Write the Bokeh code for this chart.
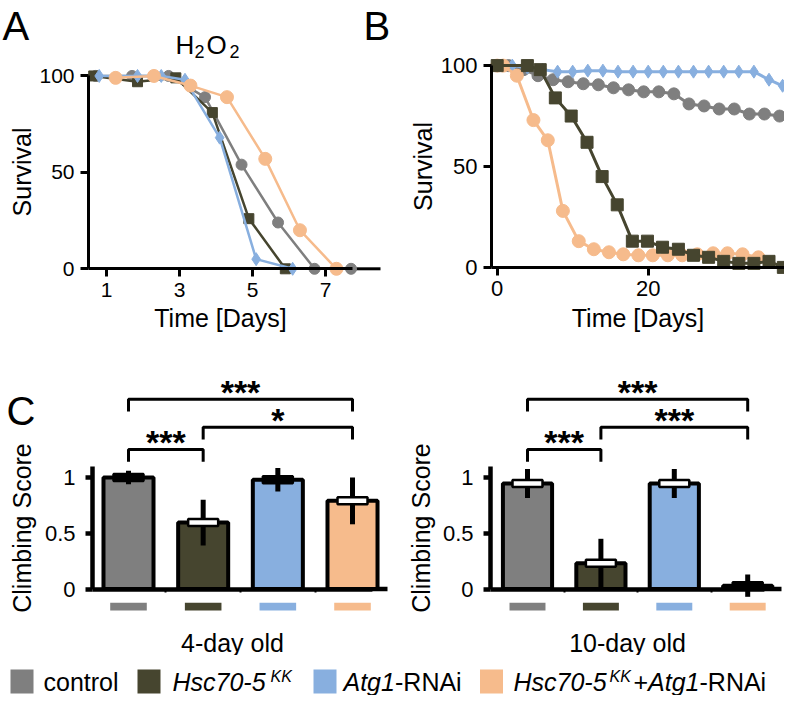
from bokeh.plotting import figure
from bokeh.models import Range1d, FixedTicker, Label, NumeralTickFormatter, CustomJSTickFormatter
from bokeh.layouts import column, row
from bokeh.embed import file_html
from bokeh.resources import INLINE

FONT = "Liberation Sans"

# ---------------- data ----------------
GROUPS = ["control", "Hsc70-5 KK", "Atg1-RNAi", "Hsc70-5 KK+Atg1-RNAi"]
COLORS = ["#7f7f7f", "#46452f", "#88afdf", "#f6bb8c"]

# Panel A: H2O2 survival (days, % alive)
a_ctrl_days = [0.7, 1.7, 2.7, 3.7, 4.7, 5.7, 6.7, 7.7]
a_ctrl_surv = [100, 100, 100, 89, 54, 24, 0, 0]
a_kk_days = [0.65, 1.85, 2.9, 3.9, 4.9, 5.9]
a_kk_surv = [100, 97, 99, 81, 26, 0]
a_atg_days = [0.8, 1.85, 2.5, 3.15, 4.1, 5.1, 6.1]
a_atg_surv = [100, 100, 100, 98, 68, 5, 0]
a_dbl_days = [1.25, 2.3, 3.3, 4.3, 5.35, 6.3, 7.3]
a_dbl_surv = [99, 100, 95, 89, 57, 20, 0]
a_ticks = [1, 3, 5, 7]

# Panel B: lifespan survival
b_ctrl_days = [0, 1.5, 3.5, 5.4, 7.4, 9.4, 11.4, 13.4, 15.4, 17.4, 19.4, 21.4, 23.4,
               25.4, 27.4, 29.4, 31.4, 33.4, 35.4, 37.4]
b_ctrl_surv = [100, 100, 98, 95, 93, 92, 91, 90.5, 89, 88, 87, 87, 86,
               81, 80, 78.5, 78.5, 76, 76, 75]
b_kk_days = [0, 4, 5.7, 7.7, 9.8, 11.9, 13.9, 15.9, 17.9, 19.9, 21.9, 24, 26, 28,
             30, 32, 34, 36, 37.9]
b_kk_surv = [100, 100, 98, 84, 75, 62, 45, 31, 13, 13, 10, 9, 6, 5, 3, 2, 2, 3, 0]
b_atg_days = [0, 2, 4, 6, 8, 10, 12, 14, 16, 18, 20, 22, 24, 26, 28, 30, 32, 34, 36, 37.8]
b_atg_surv = [100, 100, 99, 98, 97, 97, 97.5, 97.5, 97, 97, 97, 97, 97, 97, 97,
              97, 97, 97, 93, 90]
b_dbl_days = [0, 0.8, 2.6, 4.8, 6.7, 8.7, 10.8, 12.8, 14.8, 16.7, 18.7, 20.6, 22.6,
              24.5, 26.5, 28.6, 30.5, 32.5, 34.6]
b_dbl_surv = [100, 100, 95, 73, 63, 28, 13, 9, 7.5, 6.5, 6, 6, 6, 6, 6.5, 7, 7, 6.5, 5]
b_ticks = [0, 20]

# Panel C: climbing scores
c4_mean = [1.0, 0.595, 0.98, 0.79]
c4_err = [0.06, 0.205, 0.105, 0.21]
c10_mean = [0.945, 0.23, 0.945, 0.03]
c10_err = [0.13, 0.22, 0.13, 0.10]
sig_pairs = [(1, 4), (2, 4), (1, 2)]
sig_levels = [1.70, 1.45, 1.25]
c4_sig = ["***", "*", "***"]
c10_sig = ["***", "***", "***"]
bar_pos = [1, 2, 3, 4]
c_yticks = [0, 0.5, 1]


# ---------------- helpers ----------------
class Canvas:
    """Figure whose plotting frame is the whole canvas; page px <-> data."""

    def __init__(self, ox, oy, w, h, xa, rxa, sx, ya, rya, sy):
        self.ox, self.oy, self.w, self.h = ox, oy, w, h
        self.xa, self.rxa, self.sx = xa, rxa, sx
        self.ya, self.rya, self.sy = ya, rya, sy

    def dx(self, rx):
        return self.xa + (rx - self.rxa) / self.sx

    def dy(self, ry):
        return self.ya + (self.rya - ry) / self.sy

    def fig(self, axes=True):
        kw = {} if axes else dict(x_axis_type=None, y_axis_type=None)
        p = figure(width=self.w, height=self.h,
                   x_range=Range1d(self.dx(self.ox), self.dx(self.ox + self.w)),
                   y_range=Range1d(self.dy(self.oy + self.h), self.dy(self.oy)),
                   output_backend="svg", toolbar_location=None,
                   min_border_left=0, min_border_right=0,
                   min_border_top=0, min_border_bottom=0, **kw)
        p.outline_line_color = None
        p.background_fill_color = "white"
        p.border_fill_color = "white"
        if axes:
            p.grid.visible = False
        return p


def label(p, cv, rx, ry, s, size, style="normal", align="left"):
    # ry = visual middle of the text line (page px)
    p.add_layout(Label(x=cv.dx(rx), y=cv.dy(ry), text=s, text_font=FONT,
                       text_font_size=f"{size}px", text_font_style=style,
                       text_align=align, text_baseline="middle", text_color="black"))


def style_axes(p, cv, xlabel, ylabel, tick_size, lw, ytick_out, ystand, ylab_stand,
               xtick_out, xstand, xlab_stand, axis_rx, end_rx, label_rx, ybounds):
    for ax in (p.xaxis[0], p.yaxis[0]):
        ax.axis_line_width = lw
        ax.axis_line_color = "black"
        ax.major_tick_line_width = lw
        ax.major_tick_line_color = "black"
        ax.major_tick_in = 0
        ax.minor_tick_line_color = None
        ax.major_label_text_font = FONT
        ax.major_label_text_font_size = f"{tick_size}px"
        ax.major_label_text_color = "black"
        ax.axis_label_text_font = FONT
        ax.axis_label_text_font_size = "25px"
        ax.axis_label_text_font_style = "normal"
        ax.axis_label_text_color = "black"
    p.xaxis.axis_label = xlabel
    p.yaxis.axis_label = ylabel
    p.yaxis.major_tick_out = ytick_out
    p.yaxis.major_label_standoff = ystand
    p.yaxis.axis_label_standoff = ylab_stand
    p.xaxis.major_tick_out = xtick_out
    p.xaxis.major_label_standoff = xstand
    p.xaxis.axis_label_standoff = xlab_stand
    x0 = cv.dx(axis_rx)
    p.xaxis.fixed_location = 0
    p.yaxis.fixed_location = x0
    # x bounds chosen so that the axis title sits where the reference puts it
    xb_end = cv.dx(2 * label_rx - axis_rx)
    p.xaxis.bounds = (x0, xb_end)
    p.yaxis.bounds = ybounds
    x_end = cv.dx(end_rx)
    if x_end > xb_end:  # rest of the x axis line
        p.segment(x0=[xb_end], y0=[0], x1=[x_end], y1=[0], line_color="black",
                  line_width=lw)


# ---------------- Panel A ----------------
cA = Canvas(0, 0, 400, 355, 1, 106, 36.5, 0, 268.3, 1.9286)
pA = cA.fig()
style_axes(pA, cA, "Time [Days]", "Survival", 21, 3, 8, 6, 0, 8, 6, 4,
           88, 380, 220, (0, 100))
pA.xaxis.ticker = FixedTicker(ticks=a_ticks)
pA.yaxis.ticker = FixedTicker(ticks=[0, 50, 100])
seriesA = [
    (a_ctrl_days, a_ctrl_surv, COLORS[0], "circle", 11),
    (a_kk_days, a_kk_surv, COLORS[1], "square", 10),
    (a_atg_days, a_atg_surv, COLORS[2], "diamond", 13),
    (a_dbl_days, a_dbl_surv, COLORS[3], "circle", 13),
]
for xs, ys, c, m, s in seriesA:
    pA.line(xs, ys, line_color=c, line_width=2.5)
    pA.scatter(xs, ys, marker=m, size=s, fill_color=c, line_color=c)
label(pA, cA, 2, 25, "A", 40)
label(pA, cA, 363, 25, "B", 40)
label(pA, cA, 175, 44, "H", 26)
label(pA, cA, 194, 50.5, "2", 18)
label(pA, cA, 206, 44, "O", 26)
label(pA, cA, 229, 50.5, "2", 18)

# ---------------- Panel B ----------------
cB = Canvas(400, 0, 384, 355, 0, 496.7, 7.55, 0, 266.9, 2.018)
pB = cB.fig()
style_axes(pB, cB, "Time [Days]", "Survival", 22, 3, 8, 6, 1, 8, 6, 4,
           491, 784, 655, (0, 100))
pB.xaxis.ticker = FixedTicker(ticks=b_ticks)
pB.yaxis.ticker = FixedTicker(ticks=[0, 50, 100])
seriesB = [
    (b_ctrl_days, b_ctrl_surv, COLORS[0], "circle", 12),
    (b_atg_days, b_atg_surv, COLORS[2], "diamond", 13),
    (b_dbl_days, b_dbl_surv, COLORS[3], "circle", 13),
    (b_kk_days, b_kk_surv, COLORS[1], "square", 12),
]
for xs, ys, c, m, s in seriesB:
    pB.line(xs, ys, line_color=c, line_width=3)
    pB.scatter(xs, ys, marker=m, size=s, fill_color=c, line_color=c)


# ---------------- Panel C ----------------
def climbing(cv, axis_rx, end_rx, label_rx, means, errs, sigs, xlabel, cap_fills,
             ylab_stand, letter):
    p = cv.fig()
    style_axes(p, cv, xlabel, "Climbing Score", 22, 4.5, 7, 10, ylab_stand, 3, 0, 36,
               axis_rx, end_rx, label_rx, (0, 1.1))
    p.yaxis.ticker = FixedTicker(ticks=c_yticks)
    p.yaxis.formatter = NumeralTickFormatter(format="0.[0]")
    p.xaxis.ticker = FixedTicker(ticks=[1.5, 2.5, 3.5])
    p.xaxis.formatter = CustomJSTickFormatter(code="return ''")
    p.xaxis.major_tick_line_width = 2
    p.vbar(x=bar_pos, top=means, bottom=0, width=0.67, fill_color=COLORS,
           line_color="black", line_width=4)
    lo = [m - e for m, e in zip(means, errs)]
    hi = [m + e for m, e in zip(means, errs)]
    p.segment(x0=bar_pos, y0=lo, x1=bar_pos, y1=hi, line_color="black", line_width=5)
    p.rect(x=bar_pos, y=means, width=30, width_units="screen", height=7,
           height_units="screen", fill_color=cap_fills, line_color="black", line_width=2.5)
    # colour keys below the axis
    p.rect(x=bar_pos, y=[-0.158] * 4, width=0.49, height=0.07, fill_color=COLORS,
           line_color=None)
    # significance brackets
    xs, ys = [], []
    for (a, b), h in zip(sig_pairs, sig_levels):
        xs.append([a, a, b, b])
        ys.append([h - 0.11, h, h, h - 0.11])
    p.multi_line(xs, ys, line_color="black", line_width=3)
    for (a, b), h, s in zip(sig_pairs, sig_levels, sigs):
        p.add_layout(Label(x=(a + b) / 2, y=h + 0.065, text=s, text_font=FONT,
                           text_font_size="34px", text_font_style="bold",
                           text_align="center", text_baseline="middle",
                           text_color="black"))
    if letter:
        label(p, cv, 6, 410, letter, 40)
    return p


cC1 = Canvas(0, 355, 400, 300, 1, 128, 74.67, 0, 588.5, 111.56)
pC1 = climbing(cC1, 92, 387, 232, c4_mean, c4_err, c4_sig, "4-day old",
               ["black", "white", "black", "white"], 6, "C")
cC2 = Canvas(400, 355, 384, 300, 1, 527, 73.4, 0, 588.5, 111.56)
pC2 = climbing(cC2, 490, 781, 627, c10_mean, c10_err, c10_sig, "10-day old",
               ["white", "white", "white", "black"], 5, None)

# ---------------- Legend ----------------
cL = Canvas(0, 655, 784, 40, 0, 0, 1.0, 695, 695, -1.0)
pL = cL.fig(axes=False)
sw_x = [21.5, 148.5, 324.5, 491]
pL.rect(x=sw_x, y=[681] * 4, width=23, height=24, fill_color=COLORS, line_color=None)
legend_parts = [
    (43, 681, "control", 25, "normal"),
    (172, 681, "Hsc70-5", 25, "italic"),
    (270, 676, "KK", 16, "italic"),
    (343, 681, "Atg1", 25, "italic"),
    (394.5, 681, "-RNAi", 25, "normal"),
    (513, 681, "Hsc70-5", 25, "italic"),
    (609, 676, "KK", 16, "italic"),
    (633, 681, "+", 25, "normal"),
    (647.6, 681, "Atg1", 25, "italic"),
    (699, 681, "-RNAi", 25, "normal"),
]
for rx, ry, s, size, st in legend_parts:
    label(pL, cL, rx, ry, s, size, style=st)

layout = column(row(pA, pB), row(pC1, pC2), pL)
open("out.html", "w").write(file_html(layout, INLINE))
